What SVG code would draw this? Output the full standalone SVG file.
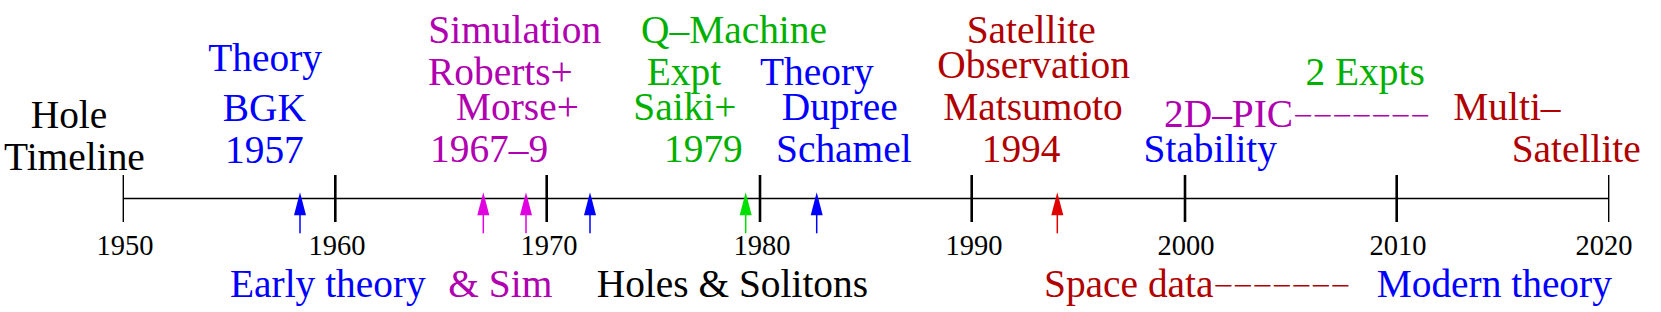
<svg xmlns="http://www.w3.org/2000/svg" xmlns:xlink="http://www.w3.org/1999/xlink" width="1661" height="312" viewBox="0 0 1661 312" font-family="'Liberation Serif', 'Times New Roman', 'DejaVu Serif', serif">
<style>
text { font-family: 'Liberation Serif', 'Times New Roman', 'DejaVu Serif', serif; }
.lbl { font-size: 39.4px; }
.yr { font-size: 28.5px; fill: #000; text-anchor: middle; }
.dash { font-size: 34.6px; }
.k { fill: #000; }
.b { fill: #0000ff; }
.m { fill: #b000b0; }
.g { fill: #00b000; }
.r { fill: #b00000; }
.axis { stroke: #000; stroke-width: 1.6; fill: none; }
.tick { stroke: #000; stroke-width: 2.6; }
.tickend { stroke: #000; stroke-width: 1.4; }
</style>
<defs>
  <g id="arrow">
    <path d="M0,0 L-6,23 L6,23 Z" fill="currentColor"/>
    <line x1="0" y1="22" x2="0" y2="41" stroke="currentColor" stroke-width="1.5"/>
  </g>
</defs>
<rect width="1661" height="312" fill="#ffffff"/>

<g id="axis">
  <line class="axis" x1="123.3" y1="198.5" x2="1608.7" y2="198.5"/>
  <line class="tickend" x1="123.3" y1="175" x2="123.3" y2="222"/>
  <line class="tick" x1="335.3" y1="175" x2="335.3" y2="222"/>
  <line class="tick" x1="546.7" y1="175" x2="546.7" y2="222"/>
  <line class="tick" x1="760" y1="175" x2="760" y2="222"/>
  <line class="tick" x1="971.7" y1="175" x2="971.7" y2="222"/>
  <line class="tick" x1="1185" y1="175" x2="1185" y2="222"/>
  <line class="tick" x1="1396.7" y1="175" x2="1396.7" y2="222"/>
  <line class="tickend" x1="1608.7" y1="175" x2="1608.7" y2="222"/>
  <text class="yr" x="125" y="255">1950</text>
  <text class="yr" x="337" y="255">1960</text>
  <text class="yr" x="549" y="255">1970</text>
  <text class="yr" x="762" y="255">1980</text>
  <text class="yr" x="974" y="255">1990</text>
  <text class="yr" x="1186" y="255">2000</text>
  <text class="yr" x="1398" y="255">2010</text>
  <text class="yr" x="1604" y="255">2020</text>
</g>

<g id="connectors">
  <use xlink:href="#arrow" x="300" y="192.3" color="#0000ff"/>
  <use xlink:href="#arrow" x="483.3" y="192.3" color="#e000e0"/>
  <use xlink:href="#arrow" x="526" y="192.3" color="#e000e0"/>
  <use xlink:href="#arrow" x="590" y="192.3" color="#0000ff"/>
  <use xlink:href="#arrow" x="745.7" y="192.3" color="#00e000"/>
  <use xlink:href="#arrow" x="816.7" y="192.3" color="#0000ff"/>
  <use xlink:href="#arrow" x="1057.3" y="192.3" color="#e00000"/>
</g>

<g id="title" class="lbl k">
  <text x="30.7" y="128">Hole</text>
  <text x="4" y="170">Timeline</text>
</g>

<g id="bgk" class="lbl b">
  <text x="208.3" y="71">Theory</text>
  <text x="222.7" y="120.7">BGK</text>
  <text x="225" y="162.7">1957</text>
</g>

<g id="simulation" class="lbl m">
  <text x="428.3" y="43.3">Simulation</text>
  <text x="428" y="85">Roberts+</text>
  <text x="456" y="120">Morse+</text>
  <text x="430" y="162.3">1967–9</text>
</g>

<g id="qmachine" class="lbl g">
  <text x="641" y="43">Q–Machine</text>
  <text x="646.7" y="85">Expt</text>
  <text x="633.3" y="120">Saiki+</text>
  <text x="664" y="162.3">1979</text>
</g>

<g id="dupree" class="lbl b">
  <text x="760" y="85">Theory</text>
  <text x="781.7" y="120">Dupree</text>
  <text x="776" y="162.3">Schamel</text>
</g>

<g id="satellite" class="lbl r">
  <text x="966.7" y="42.7">Satellite</text>
  <text x="937.3" y="78.3">Observation</text>
  <text x="943.3" y="120">Matsumoto</text>
  <text x="981.7" y="162.3">1994</text>
</g>

<g id="stability" class="lbl b">
  <text x="1143.5" y="161.7">Stability</text>
</g>

<g id="pic" class="lbl m">
  <text x="1164" y="127">2D–PIC<tspan class="dash">−−−−−−−</tspan></text>
</g>

<g id="expts" class="lbl g">
  <text x="1305.5" y="84.5">2 Expts</text>
</g>

<g id="multisat" class="lbl r">
  <text x="1453.3" y="120">Multi–</text>
  <text x="1511.7" y="161.7">Satellite</text>
</g>

<g id="eras" class="lbl">
  <text class="b" x="230" y="297">Early theory</text>
  <text class="m" x="448.3" y="297">&amp; Sim</text>
  <text class="k" x="596.7" y="297">Holes &amp; Solitons</text>
  <text class="r" x="1044" y="297">Space data<tspan class="dash">−−−−−−−</tspan></text>
  <text class="b" x="1376.7" y="297">Modern theory</text>
</g>
</svg>
